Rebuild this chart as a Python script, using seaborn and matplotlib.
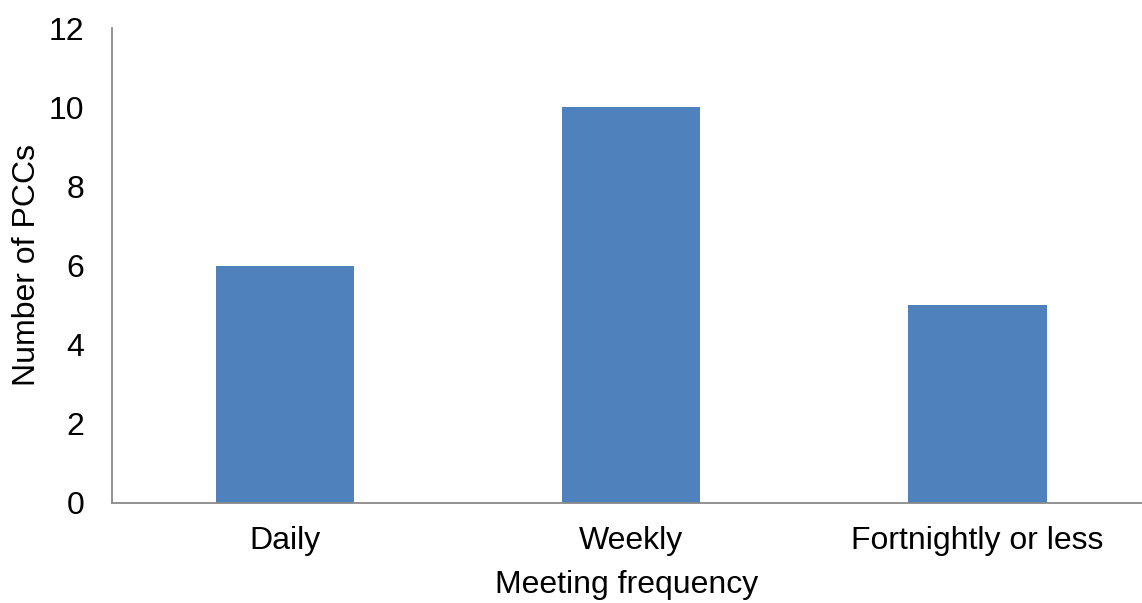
import matplotlib
matplotlib.use("Agg")
import matplotlib.pyplot as plt
import seaborn as sns
import pandas as pd

categories = ["Daily", "Weekly", "Fortnightly or less"]
counts = [6, 10, 5]
y_ticks = [0, 2, 4, 6, 8, 10, 12]

sns.set_theme(style="white")
plt.rcParams["font.family"] = ["Liberation Sans", "DejaVu Sans"]

W, H = 1142, 603
FS = 23
fig = plt.figure(figsize=(W / 100, H / 100), dpi=100)
ax = fig.add_axes([111.7 / W, (H - 503) / H, (1142 - 111.7) / W, (503 - 28) / H])

df = pd.DataFrame({"freq": categories, "n": counts})
sns.barplot(data=df, x="freq", y="n", color="#4F81BD", saturation=1,
            width=0.4, ax=ax, edgecolor="none")

ax.set_xlim(-0.5, 2.475)
ax.set_ylim(0, 12)
ax.set_yticks(y_ticks)
ax.tick_params(axis="both", length=0, labelsize=FS, colors="black")
ax.tick_params(axis="y", pad=19.7)
ax.tick_params(axis="x", pad=16.5)

for s in ["top", "right"]:
    ax.spines[s].set_visible(False)
for s in ["left", "bottom"]:
    ax.spines[s].set_color("#898989")
    ax.spines[s].set_linewidth(1.3)

ax.set_xlabel("Meeting frequency", fontsize=FS, labelpad=10.5, color="black")
ax.set_ylabel("Number of PCCs", fontsize=FS, color="black")
ax.yaxis.set_label_coords(-0.068, 0.5)

fig.savefig("out.png", dpi=100)
